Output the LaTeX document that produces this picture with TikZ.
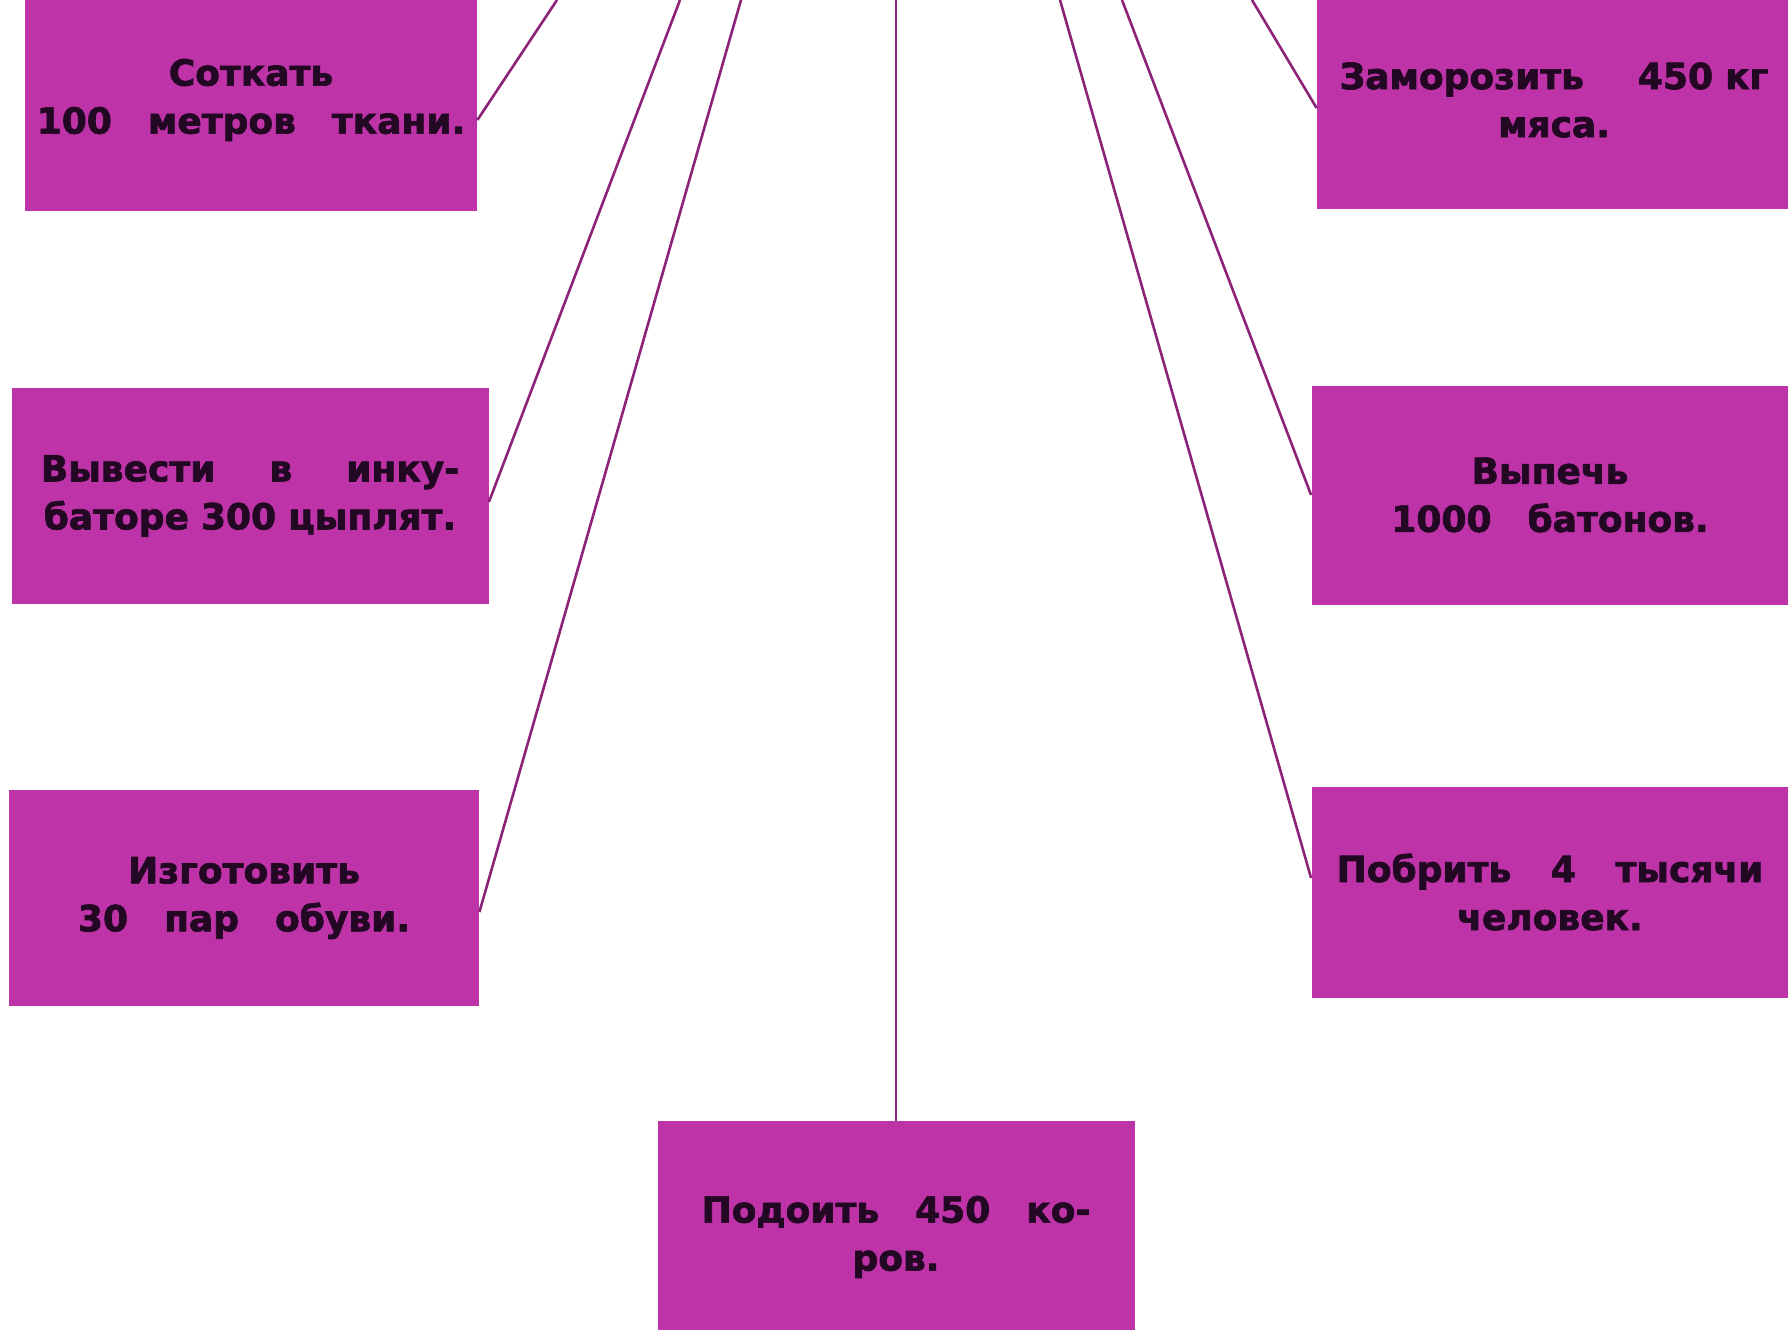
\documentclass[tikz,border=0pt]{standalone}
\usepackage{fontspec}
\setmainfont{DejaVu Sans}[BoldFeatures={FakeBold=2}]

\definecolor{taskfill}{RGB}{190,52,168}
\definecolor{tasklink}{RGB}{140,35,120}
\definecolor{taskink}{RGB}{35,8,35}

\begin{document}
\begin{tikzpicture}[x=0.5pt, y=-0.5pt,
  task/.style={rectangle, fill=taskfill, text=taskink, inner sep=0pt,
    text width=225pt, align=center, font=\bfseries\fontsize{18}{24}\selectfont},
  link/.style={draw=tasklink, line width=1.3pt}]
  \useasboundingbox[fill=white] (0,0) rectangle (1788,1329);

  % left column
  \node[task, minimum width=226pt, minimum height=111pt] (weave) at (251,100)
    {Соткать\\100\quad метров\quad ткани.};
  \node[task, minimum width=238.5pt, minimum height=108pt] (chicks) at (250,496)
    {Вывести\hspace{1.5em}в\hspace{1.5em}инку-\\баторе 300 цыплят.};
  \node[task, minimum width=235pt, minimum height=108pt] (shoes) at (244,898)
    {Изготовить\\30\quad пар\quad обуви.};

  \node[task, minimum width=238.5pt, minimum height=116pt] (milk) at (896,1237)
    {Подоить\quad 450\quad ко-\\ров.};

  % right column
  \node[task, minimum width=237pt, minimum height=109pt] (freeze) at (1554,100)
    {Заморозить\hspace{1.5em}450 кг\\мяса.};
  \node[task, minimum width=238.5pt, minimum height=109.5pt] (bake) at (1550,495)
    {Выпечь\\1000\quad батонов.};
  \node[task, minimum width=238.5pt, minimum height=105.5pt] (shave) at (1550,892)
    {Побрить\hspace{1.1em}4\hspace{1.1em}тысячи\\человек.};

  \coordinate (t1) at (557,0);
  \coordinate (t2) at (680,0);
  \coordinate (t3) at (741,0);
  \coordinate (t4) at (896,0);
  \coordinate (t5) at (1060,0);
  \coordinate (t6) at (1122,0);
  \coordinate (t7) at (1252,0);

  \draw[link] (t1) -- ([yshift=-10pt]weave.east);
  \draw[link] (t2) -- ([yshift=-3pt]chicks.east);
  \draw[link] (t3) -- ([yshift=-7pt]shoes.east);
  \draw[link] (t4) -- (milk.north);
  \draw[link] (t5) -- ([yshift=7pt]shave.west);
  \draw[link] (t6) -- (bake.west);
  \draw[link] (t7) -- ([yshift=-4pt]freeze.west);
\end{tikzpicture}
\end{document}
